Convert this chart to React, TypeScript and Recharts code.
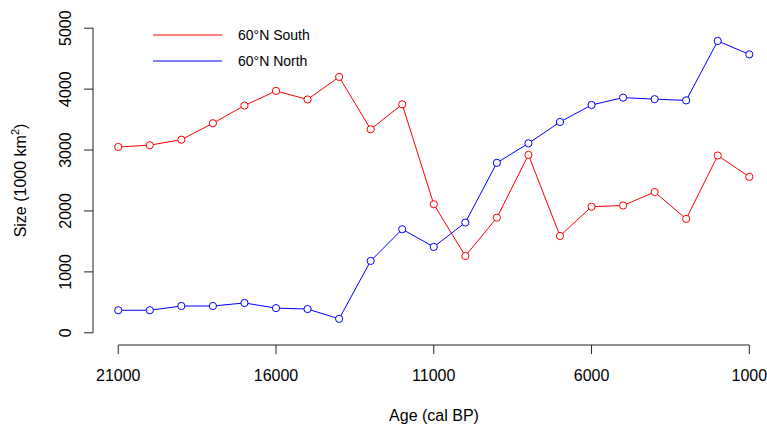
import { LineChart, Line, XAxis, YAxis, ReferenceLine, Legend } from 'recharts'

const AGES = [21000, 20000, 19000, 18000, 17000, 16000, 15000, 14000, 13000, 12000, 11000, 10000, 9000, 8000, 7000, 6000, 5000, 4000, 3000, 2000, 1000]
const SOUTH = [3050, 3080, 3170, 3440, 3730, 3970, 3830, 4200, 3340, 3750, 2110, 1260, 1890, 2920, 1590, 2070, 2090, 2310, 1870, 2910, 2560]
const NORTH = [370, 370, 440, 440, 490, 405, 390, 230, 1180, 1700, 1410, 1810, 2790, 3110, 3460, 3740, 3860, 3835, 3815, 4790, 4570]
const X_TICKS = [21000, 16000, 11000, 6000, 1000]
const Y_TICKS = [0, 1000, 2000, 3000, 4000, 5000]

const SERIES = [
  { key: 'south', name: '60°N South', color: '#ff0000' },
  { key: 'north', name: '60°N North', color: '#0000ff' },
]

const FONT = '"Liberation Sans", Arial, Helvetica, sans-serif'
const AXIS = '#222'

const data = AGES.map((age, i) => ({ age, south: SOUTH[i], north: NORTH[i] }))

function YTick(props: any) {
  const { x, y, payload } = props
  return (
    <text x={x} y={y} transform={`rotate(-90 ${x} ${y})`} textAnchor="middle" fontSize={16} fontFamily={FONT} fill="#000">
      {payload.value}
    </text>
  )
}

function YTitle(props: any) {
  const vb = props.viewBox
  const x = 26
  const y = vb.y + vb.height / 2
  return (
    <text x={x} y={y} transform={`rotate(-90 ${x} ${y})`} textAnchor="middle" fontSize={16} fontFamily={FONT} fill="#000">
      Size (1000 km<tspan fontSize={11} dy={-7}>2</tspan><tspan dy={7}>)</tspan>
    </text>
  )
}

function XTitle(props: any) {
  const vb = props.viewBox
  return (
    <text x={vb.x + vb.width / 2 + 4} y={vb.y + 76} textAnchor="middle" fontSize={16} fontFamily={FONT} fill="#000">
      Age (cal BP)
    </text>
  )
}

function LegendBox() {
  return (
    <div style={{ fontFamily: FONT, fontSize: 14, color: '#000' }}>
      {SERIES.map((s) => (
        <div key={s.key} style={{ display: 'flex', alignItems: 'center', height: 26 }}>
          <svg width={69} height={2} style={{ display: 'block' }}>
            <line x1={0} y1={1} x2={69} y2={1} stroke={s.color} strokeWidth={1} />
          </svg>
          <span style={{ marginLeft: 16, whiteSpace: 'nowrap' }}>{s.name}</span>
        </div>
      ))}
    </div>
  )
}

export default function App() {
  return (
    <div style={{ position: 'absolute', left: 0, top: 0, background: '#fff' }}>
      <LineChart width={767} height={428} data={data} margin={{ top: 16, right: 0, bottom: 0, left: 0 }}>
        <XAxis
          type="number"
          dataKey="age"
          domain={[439, 21800]}
          reversed
          allowDataOverflow
          ticks={X_TICKS}
          interval={0}
          height={83}
          axisLine={false}
          tickLine={{ stroke: AXIS }}
          tickSize={9}
          tickMargin={16}
          tick={{ fill: '#000', fontSize: 16, fontFamily: FONT }}
          label={XTitle}
        />
        <YAxis
          type="number"
          domain={[-200, 5200]}
          allowDataOverflow
          ticks={Y_TICKS}
          interval={0}
          width={93}
          axisLine={false}
          tickLine={{ stroke: AXIS }}
          tickSize={9}
          tickMargin={13}
          tick={YTick}
          label={YTitle}
        />
        <ReferenceLine segment={[{ x: 21000, y: -200 }, { x: 1000, y: -200 }]} stroke={AXIS} ifOverflow="visible" />
        <ReferenceLine segment={[{ x: 21800, y: 0 }, { x: 21800, y: 5000 }]} stroke={AXIS} ifOverflow="visible" />
        <Legend
          layout="vertical"
          verticalAlign="middle"
          align="center"
          content={LegendBox}
          wrapperStyle={{ top: 22, left: 153, width: 'auto', height: 'auto' }}
        />
        {SERIES.map((s) => (
          <Line
            key={s.key}
            type="linear"
            dataKey={s.key}
            name={s.name}
            stroke={s.color}
            strokeWidth={1}
            dot={{ r: 3.6, stroke: s.color, strokeWidth: 1, fill: '#fff' }}
            isAnimationActive={false}
          />
        ))}
      </LineChart>
    </div>
  )
}
